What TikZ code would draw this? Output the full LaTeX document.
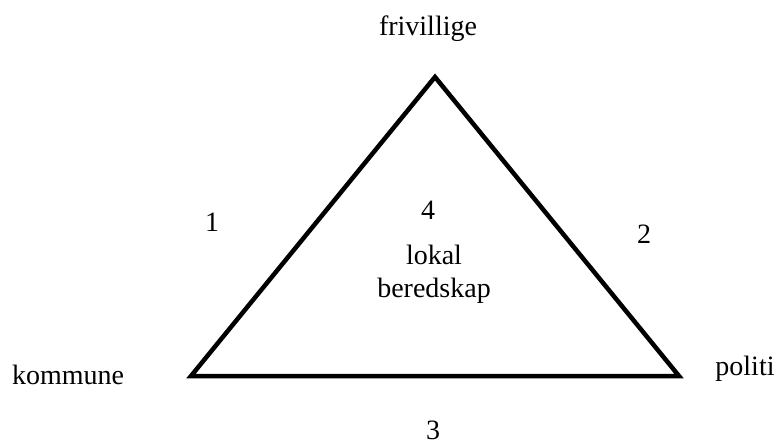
\documentclass[tikz,border=0pt]{standalone}
\usepackage{fontspec}
\setmainfont{Liberation Serif}
\begin{document}
\begin{tikzpicture}[x=1pt,y=-1pt,
  lbl/.style={anchor=base,inner sep=0pt,font=\fontsize{28}{32}\selectfont},
  edge/.style={line width=4.5pt,line join=miter}]
\useasboundingbox (0,0) rectangle (779,444);
\coordinate (A) at (435,77);
\coordinate (B) at (191,376);
\coordinate (C) at (679,376);
\draw[edge] (A) -- (B) -- (C) -- cycle;
\node[lbl] (friv) at (428,36) {frivillige};
\node[lbl] (komm) at (68,384) {kommune};
\node[lbl] (pol) at (745,375) {politi};
\node[lbl] (n1) at (212,231) {1};
\node[lbl] (n2) at (644,243) {2};
\node[lbl] (n3) at (433,439) {3};
\node[lbl] (n4) at (428,219) {4};
\node[lbl] (lok) at (434,264) {lokal};
\node[lbl] (bered) at (434,297) {beredskap};
\end{tikzpicture}
\end{document}
